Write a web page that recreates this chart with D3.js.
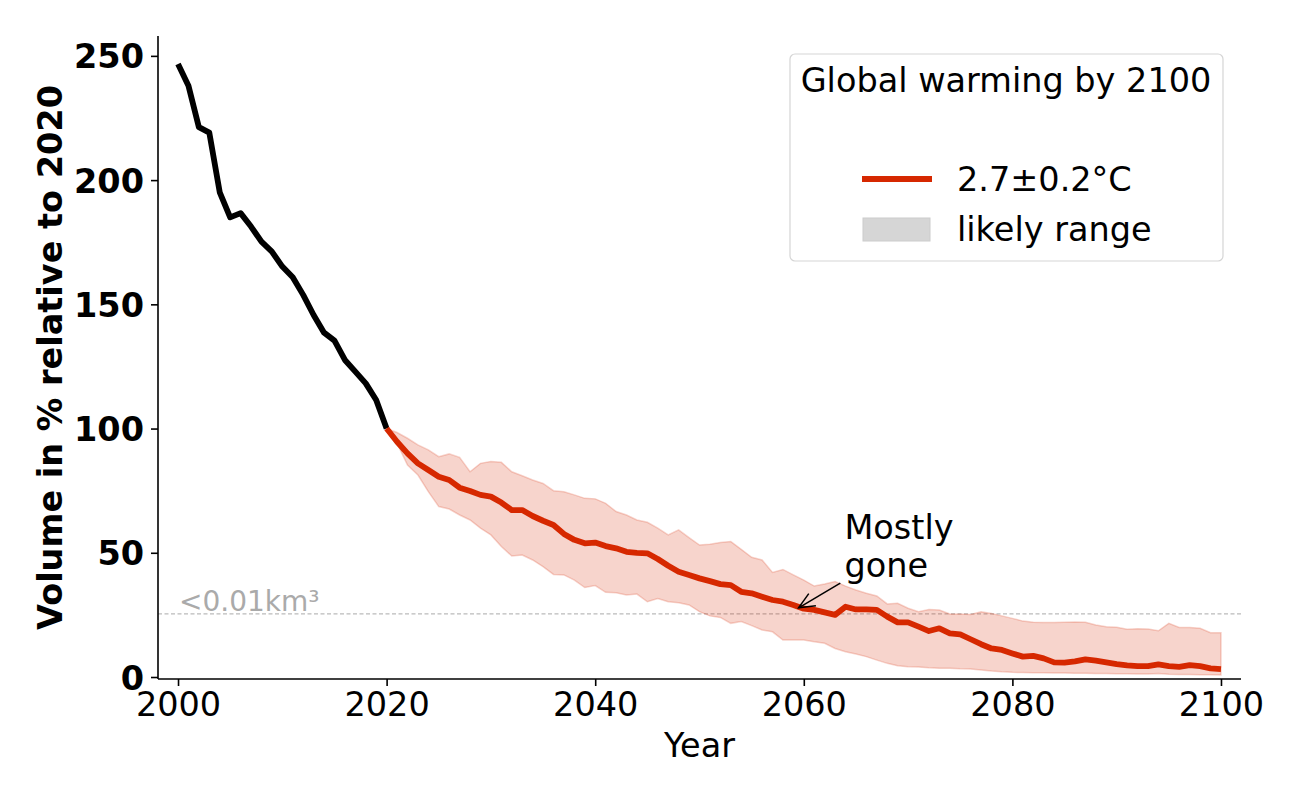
<!DOCTYPE html>
<html lang="en">
<head>
	<meta charset="utf-8">
	<title>Glacier volume</title>
	<script src="https://d3js.org/d3.v7.min.js"></script>
	<style type="text/css">
		body { margin: 0; background: white; }
		text { font-family: "DejaVu Sans", sans-serif; }
	</style>
</head>
<body>
	<svg id="chart" style="width:1300px; height:800px"></svg>

	<script type="text/javascript">
	// colours
	var red = "#d62800"
	var grey = "#aaaaaa"
	var fs = "33.5px"

	// observed volume, 2000-2020
	var histYears = d3.range(2000, 2021)
	var histValues = [246.7, 238, 221.3, 219.1, 195.1, 185, 186.7, 181.3, 175.2, 171.2,
		165.2, 160.9, 153.8, 145.7, 138.6, 135.4, 127.6, 122.9, 118.2, 111.5, 100]

	// projection, 2020-2100
	var projYears = d3.range(2020, 2101)
	var projMedian = [100, 94.7, 90, 86, 83.3, 80.6, 79.3, 76.2, 74.9, 73.3,
		72.6, 70.2, 67.2, 67.2, 64.8, 62.9, 61.2, 57.6, 55.2, 53.8,
		54.1, 52.7, 51.8, 50.4, 50, 49.8, 47.5, 44.8, 42.4, 41.1,
		39.7, 38.6, 37.4, 37, 34.3, 33.7, 32.3, 31, 30.3, 29,
		27.5, 27, 26, 25, 28.3, 27.2, 27.2, 27, 24.3, 22,
		22, 20.3, 18.5, 19.6, 17.6, 17.2, 15.2, 13.2, 11.5, 10.9,
		9.5, 8.2, 8.5, 7.5, 5.9, 5.8, 6.3, 7.1, 6.6, 5.9,
		5.2, 4.7, 4.4, 4.4, 5.1, 4.4, 4.1, 4.8, 4.4, 3.5, 3.2]
	var projUpper = [100, 98.4, 96.1, 93.4, 91.4, 88.7, 89.8, 88.4, 82.6, 86,
		86.7, 86.4, 82.6, 81, 79.3, 77.9, 75, 74.6, 73.3, 71.9,
		71.7, 69.9, 66.6, 65.2, 63.2, 62.3, 59.9, 57.2, 59.2, 56.1,
		53.1, 53.4, 54.1, 54.5, 51.4, 48.2, 47.1, 42.1, 43.3, 41.1,
		39, 36.6, 37.4, 38.4, 36.6, 35, 33.7, 32.6, 29.4, 29.7,
		27.7, 26.3, 27.2, 27, 25.4, 25.4, 25.2, 26.3, 25.6, 24.6,
		23.6, 22.5, 22, 21.9, 21.9, 22, 22.1, 22, 20.9, 20.2,
		20, 19.2, 19.4, 19.3, 18.6, 21.6, 19.9, 19.9, 19.6, 17.8, 17.8]
	var projLower = [100, 94.1, 85.3, 81.3, 74.6, 68.6, 67.6, 65.2, 63.2, 59.9,
		57.2, 52.5, 48.7, 49.1, 47.1, 44.4, 41.3, 41.1, 39, 36,
		36.8, 34.1, 33.9, 33, 33.4, 30.3, 31.6, 30.3, 29.9, 29,
		26.3, 24.6, 24, 21.6, 22.3, 20.7, 18.9, 18.2, 14.9, 14.9,
		14.9, 14.2, 13.6, 11.5, 10.2, 9.3, 8.2, 6.8, 5.5, 4.5,
		4.1, 4, 3.7, 3.5, 3.5, 3.3, 3.2, 2.8, 2.4, 2.1,
		1.9, 1.8, 1.7, 1.7, 1.6, 1.6, 1.5, 1.5, 1.4, 1.4,
		1.3, 1.3, 1.2, 1.2, 1.4, 1.1, 1.0, 1.0, 0.9, 0.9, 0.8]

	// ticks and threshold
	var xTicks = [2000, 2020, 2040, 2060, 2080, 2100]
	var yTicks = [0, 50, 100, 150, 200, 250]
	var threshold = 25.4
	var thresholdLabel = "<0.01km³"
	var goneYear = 2059.5

	// layout
	var margin = {top: 36, right: 59, bottom: 121, left: 158}
	var W = 1300, H = 800

	var x = d3.scaleLinear().domain([1998.08, 2101.92]).range([margin.left, W - margin.right])
	var y = d3.scaleLinear().domain([-0.8, 258]).range([H - margin.bottom, margin.top])

	var svg = d3.select("#chart")

	svg.append("defs").append("marker")
		.attr("id", "arrow")
		.attr("viewBox", "0 0 20 20")
		.attr("refX", 18).attr("refY", 10)
		.attr("markerWidth", 20).attr("markerHeight", 20)
		.attr("markerUnits", "userSpaceOnUse")
		.attr("orient", "auto")
		.append("path")
		.attr("d", "M2,3 L18,10 L2,17")
		.attr("fill", "none")
		.attr("stroke", "black")
		.attr("stroke-width", 1.5)

	// threshold line
	svg.append("line")
		.attr("x1", margin.left).attr("x2", W - margin.right)
		.attr("y1", y(threshold)).attr("y2", y(threshold))
		.attr("stroke", "#bbbbbb")
		.attr("stroke-width", 1.2)
		.attr("stroke-dasharray", "4,2.5")

	svg.append("text")
		.attr("x", x(2000) + 1)
		.attr("y", y(threshold) - 3)
		.attr("fill", grey)
		.style("font-size", "28px")
		.text(thresholdLabel)

	// likely range band
	var proj = projYears.map((yr, i) => ({year: yr, med: projMedian[i], lo: projLower[i], hi: projUpper[i]}))

	var area = d3.area()
		.x(d => x(d.year))
		.y0(d => y(d.lo))
		.y1(d => y(d.hi))

	svg.append("path")
		.datum(proj)
		.attr("d", area)
		.attr("fill", red)
		.attr("fill-opacity", 0.2)
		.attr("stroke", red)
		.attr("stroke-opacity", 0.2)
		.attr("stroke-width", 1.5)

	// lines
	var line = d3.line().x(d => x(d[0])).y(d => y(d[1]))

	svg.append("path")
		.datum(histYears.map((yr, i) => [yr, histValues[i]]))
		.attr("d", line)
		.attr("fill", "none")
		.attr("stroke", "black")
		.attr("stroke-width", 5.8)
		.attr("stroke-linejoin", "round")

	svg.append("path")
		.datum(proj.map(d => [d.year, d.med]))
		.attr("d", line)
		.attr("fill", "none")
		.attr("stroke", red)
		.attr("stroke-width", 5.8)
		.attr("stroke-linejoin", "round")

	// annotation
	var goneIdx = projYears.indexOf(Math.floor(goneYear))
	var goneVal = (projMedian[goneIdx] + projMedian[goneIdx + 1]) / 2
	svg.append("line")
		.attr("x1", x(2063.5)).attr("y1", y(37.8))
		.attr("x2", x(goneYear)).attr("y2", y(goneVal) + 1)
		.attr("stroke", "black")
		.attr("stroke-width", 1.5)
		.attr("marker-end", "url(#arrow)")

	var ann = svg.append("text")
		.attr("x", x(2063.9))
		.attr("y", 539)
		.style("font-size", fs)
	ann.append("tspan").attr("x", x(2063.9)).text("Mostly")
	ann.append("tspan").attr("x", x(2063.9)).attr("dy", 38).text("gone")

	// axes
	var xAxis = svg.append("g")
		.attr("transform", "translate(0," + (H - margin.bottom) + ")")
		.call(d3.axisBottom(x).tickValues(xTicks).tickFormat(d3.format("d")).tickSize(7).tickPadding(6))
	xAxis.selectAll("text").style("font-size", fs).attr("fill", "black")

	var yAxis = svg.append("g")
		.attr("transform", "translate(" + margin.left + ",0)")
		.call(d3.axisLeft(y).tickValues(yTicks).tickSize(7).tickPadding(7))
	yAxis.selectAll("text").style("font-size", fs).style("font-weight", "bold").attr("fill", "black").attr("dy", "0.36em")

	svg.selectAll(".domain").attr("stroke-width", 1.6)
	svg.selectAll(".tick line").attr("stroke-width", 1.6)
	xAxis.select(".domain").attr("d", "M" + margin.left + ",0H" + (W - margin.right))
	yAxis.select(".domain").attr("d", "M0," + (H - margin.bottom) + "V" + margin.top)

	svg.append("text")
		.attr("x", (margin.left + W - margin.right) / 2)
		.attr("y", 757)
		.attr("text-anchor", "middle")
		.style("font-size", fs)
		.text("Year")

	svg.append("text")
		.attr("transform", "translate(62," + ((margin.top + H - margin.bottom) / 2) + ") rotate(-90)")
		.attr("text-anchor", "middle")
		.style("font-size", fs)
		.style("font-weight", "bold")
		.text("Volume in % relative to 2020")

	// legend
	var lg = svg.append("g")
	lg.append("rect")
		.attr("x", 790).attr("y", 54)
		.attr("width", 433).attr("height", 207)
		.attr("rx", 5)
		.attr("fill", "white")
		.attr("fill-opacity", 0.8)
		.attr("stroke", "#d5d5d5")
		.attr("stroke-width", 1.2)
	lg.append("text")
		.attr("x", 1006).attr("y", 92)
		.attr("text-anchor", "middle")
		.style("font-size", fs)
		.text("Global warming by 2100")
	lg.append("line")
		.attr("x1", 862).attr("x2", 932)
		.attr("y1", 179).attr("y2", 179)
		.attr("stroke", red)
		.attr("stroke-width", 5.8)
	lg.append("text")
		.attr("x", 957).attr("y", 191)
		.style("font-size", fs)
		.text("2.7±0.2°C")
	lg.append("rect")
		.attr("x", 863).attr("y", 218)
		.attr("width", 67).attr("height", 23)
		.attr("fill", "#d6d6d6")
		.attr("stroke", "#cccccc")
		.attr("stroke-width", 1)
	lg.append("text")
		.attr("x", 957).attr("y", 241)
		.style("font-size", fs)
		.text("likely range")
	</script>
</body>
</html>
